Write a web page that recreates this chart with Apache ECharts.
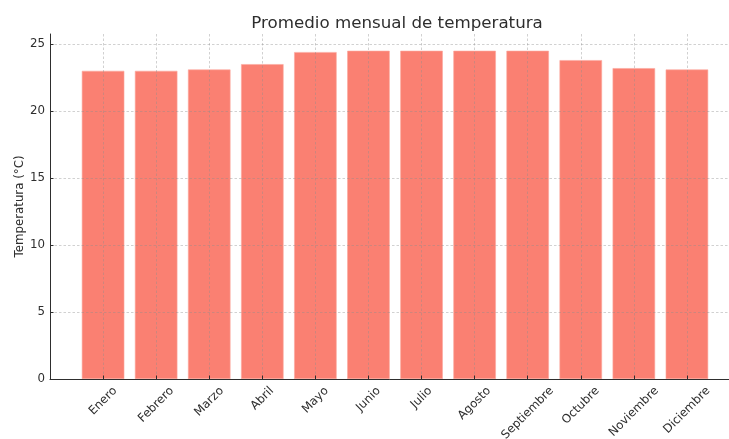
<!DOCTYPE html>
<html>
<head>
<meta charset="utf-8">
<script src="https://cdn.jsdelivr.net/npm/echarts@6/dist/echarts.min.js"></script>
<style>
  html, body { margin: 0; padding: 0; background: #fff; }
  #chart { width: 729px; height: 439px; }
</style>
</head>
<body>
<div id="chart"></div>
<script>
// Monthly average temperature (°C)
const months = ['Enero', 'Febrero', 'Marzo', 'Abril', 'Mayo', 'Junio',
                'Julio', 'Agosto', 'Septiembre', 'Octubre', 'Noviembre', 'Diciembre'];
const temps = [23.0, 23.0, 23.1, 23.5, 24.4, 24.5, 24.5, 24.5, 24.5, 23.8, 23.2, 23.1];
const yTicks = [0, 5, 10, 15, 20, 25];

const FONT = '"DejaVu Sans", Verdana, sans-serif';
const LABEL_SIZE = 11.8;
const INK = '#2e2e2e';

// Rotated month labels are centred under their tick with the top edge near the axis;
// each label gets padding that moves its centre down by an amount tied to its width.
const ctx = document.createElement('canvas').getContext('2d');
ctx.font = LABEL_SIZE + 'px ' + FONT;
const rich = {};
months.forEach((m, i) => {
  const w = ctx.measureText(m).width;
  rich['m' + i] = {
    fontFamily: FONT, fontSize: LABEL_SIZE, color: INK,
    padding: [0.5 * w, 0.5 * w, 0, 0]
  };
});

const gridLine = { show: true, lineStyle: { color: 'rgba(140,140,140,0.5)', width: 0.8, type: [2.5, 2] } };

const chart = echarts.init(document.getElementById('chart'), null, { renderer: 'canvas' });
chart.setOption({
  animation: false,
  backgroundColor: '#ffffff',
  title: {
    text: 'Promedio mensual de temperatura',
    left: 392, top: 10, textAlign: 'center',
    textStyle: { fontFamily: FONT, fontSize: 16.7, fontWeight: 'normal', color: INK }
  },
  grid: { left: 50, right: -11, top: 34, bottom: 60, containLabel: false, outerBoundsMode: 'none' },
  xAxis: {
    type: 'value', min: -1, max: 12, interval: 1, z: 5,
    axisLine: { show: true, onZero: false, lineStyle: { color: INK, width: 1 } },
    axisTick: { show: true, inside: true, length: 3.5, lineStyle: { color: INK, width: 1 } },
    axisLabel: {
      rotate: 45, align: 'center', verticalAlign: 'middle', margin: 10,
      formatter: v => (v >= 0 && v < months.length) ? '{m' + v + '|' + months[v] + '}' : '',
      rich: rich
    },
    splitLine: gridLine
  },
  yAxis: {
    type: 'value', min: 0, max: 25.75, z: 5,
    name: 'Temperatura (°C)', nameLocation: 'middle', nameGap: 24, nameMoveOverlap: false,
    nameTextStyle: { fontFamily: FONT, fontSize: LABEL_SIZE, color: INK },
    axisLine: { show: true, onZero: false, lineStyle: { color: INK, width: 1 } },
    axisTick: { show: true, inside: true, length: 3.5, customValues: yTicks, lineStyle: { color: INK, width: 1 } },
    axisLabel: { margin: 5, customValues: yTicks, fontFamily: FONT, fontSize: LABEL_SIZE, color: INK },
    splitLine: gridLine
  },
  series: [{
    type: 'bar',
    data: temps.map((t, i) => [i, t]),
    barWidth: 42.5,
    itemStyle: { color: '#FA8072', borderColor: '#FCA89E', borderWidth: 0.6 }
  }]
});
</script>
</body>
</html>
